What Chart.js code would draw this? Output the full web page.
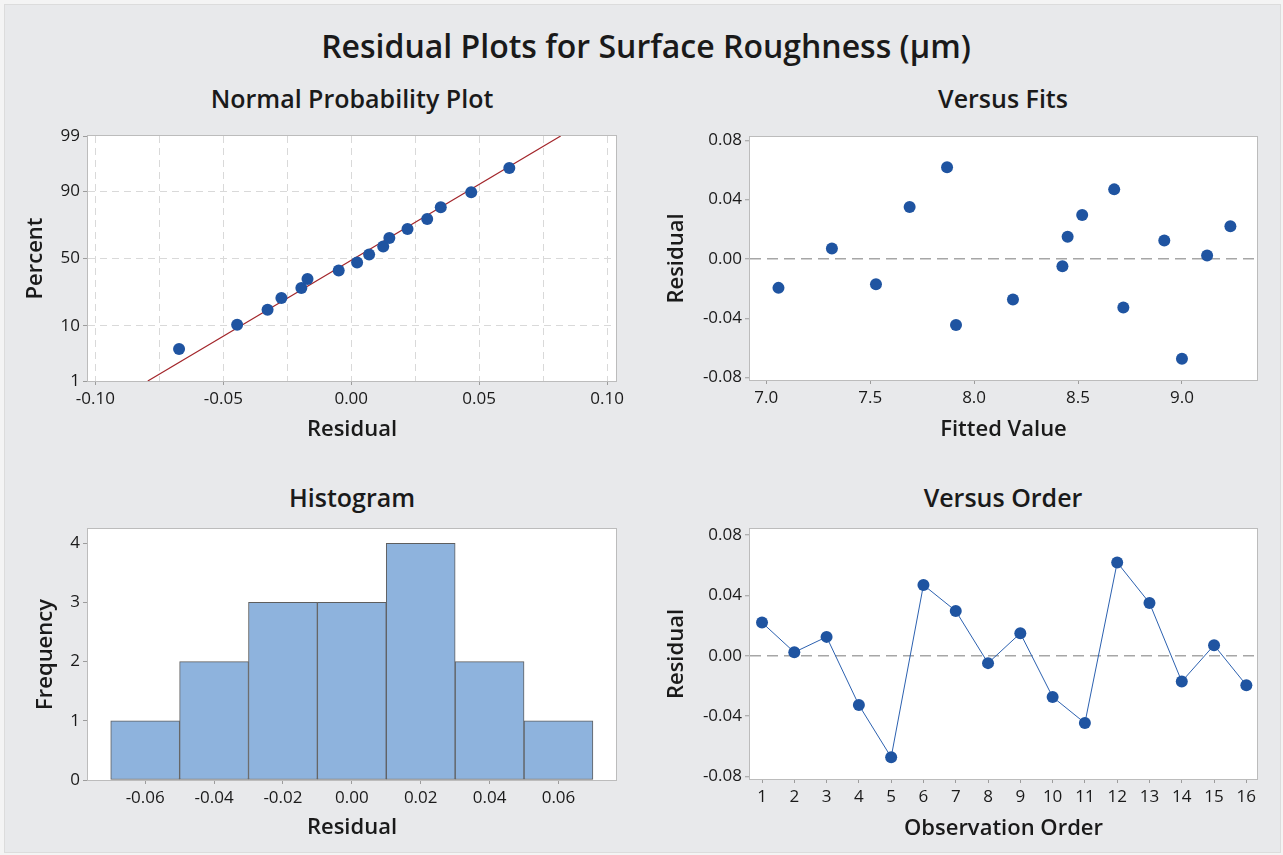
<!DOCTYPE html>
<html>
<head>
<meta charset="utf-8">
<title>Residual Plots for Surface Roughness</title>
<script src="https://cdn.jsdelivr.net/npm/chart.js@4.4.1/dist/chart.umd.min.js"></script>
<style>
  body { margin: 0; width: 1283px; height: 855px; background: #f4f4f4; font-family: "Open Sans", sans-serif; overflow: hidden; }
  .wrap { position: absolute; left: 4px; top: 4px; width: 1275px; height: 847px; background: #e8e9eb; border: 1px solid #dcdcdc; }
  canvas { position: absolute; }
  .title { position: absolute; color: #1a1a1a; white-space: nowrap; transform: translate(-50%, -50%); font-weight: 600; }
  .main { left: 646px; top: 45px; font-size: 32px; }
  .sub { font-size: 25px; }
</style>
</head>
<body>
<div class="wrap"></div>
<div class="title main">Residual Plots for Surface Roughness (µm)</div>
<div class="title sub" style="left:352px; top:98px;">Normal Probability Plot</div>
<div class="title sub" style="left:1003px; top:98px;">Versus Fits</div>
<div class="title sub" style="left:352px; top:497px;">Histogram</div>
<div class="title sub" style="left:1003px; top:497px;">Versus Order</div>

<canvas id="npp" width="640" height="330" style="left:0; top:120px;"></canvas>
<canvas id="fits" width="643" height="330" style="left:640px; top:120px;"></canvas>
<canvas id="hist" width="640" height="340" style="left:0; top:515px;"></canvas>
<canvas id="order" width="643" height="340" style="left:640px; top:515px;"></canvas>

<script>
// residuals, fits off the Versus Fits plot
const obsOrder = [1, 2, 3, 4, 5, 6, 7, 8, 9, 10, 11, 12, 13, 14, 15, 16];
const residuals = [0.0220, 0.0023, 0.0125, -0.0327, -0.0673, 0.0469, 0.0297, -0.0049,
                   0.0149, -0.0273, -0.0446, 0.0618, 0.0350, -0.0171, 0.0070, -0.0195];
const fittedValues = [9.233, 9.121, 8.915, 8.718, 9.000, 8.674, 8.520, 8.425,
                      8.450, 8.187, 7.913, 7.870, 7.690, 7.528, 7.316, 7.059];
// plotted percent of the sorted residuals
const probPercent = [4.3, 10.4, 16.5, 22.6, 28.7, 34.8, 40.9, 47.0,
                     53.0, 59.1, 65.2, 71.3, 77.4, 83.5, 89.6, 95.7];

const histBinCenters = [-0.06, -0.04, -0.02, 0.00, 0.02, 0.04, 0.06];
const histCounts = [1, 2, 3, 3, 4, 2, 1];

// ticks
const percentTicks = [1, 10, 50, 90, 99];
const nppResidTicks = [-0.10, -0.075, -0.05, -0.025, 0, 0.025, 0.05, 0.075, 0.10];
const residTicks = [-0.08, -0.04, 0, 0.04, 0.08];
const fitTicks = [7.0, 7.5, 8.0, 8.5, 9.0];
const histTicks = [-0.06, -0.04, -0.02, 0.00, 0.02, 0.04, 0.06];
const freqTicks = [0, 1, 2, 3, 4];

const dotColor = "#1f54a1";
const textColor = "#1a1a1a";
const tickMarkColor = "#9c9c9c";

Chart.defaults.font.family = "'Open Sans', sans-serif";
Chart.defaults.color = textColor;
Chart.defaults.animation = false;
Chart.defaults.plugins.legend.display = false;
Chart.defaults.plugins.tooltip.enabled = false;

// inverse of the standard normal cdf (Acklam), used for the probability axis
function normInv(p) {
  const a = [-39.6968302866538, 220.946098424521, -275.928510446969, 138.357751867269, -30.6647980661472, 2.50662827745924];
  const b = [-54.4760987982241, 161.585836858041, -155.698979859887, 66.8013118877197, -13.2806815528857];
  const c = [-0.00778489400243029, -0.322396458041136, -2.40075827716184, -2.54973253934373, 4.37466414146497, 2.93816398269878];
  const d = [0.00778469570904146, 0.32246712907004, 2.445134137143, 3.75440866190742];
  const pl = 0.02425;
  let q, r;
  if (p < pl) {
    q = Math.sqrt(-2 * Math.log(p));
    return (((((c[0] * q + c[1]) * q + c[2]) * q + c[3]) * q + c[4]) * q + c[5]) / ((((d[0] * q + d[1]) * q + d[2]) * q + d[3]) * q + 1);
  }
  if (p > 1 - pl) {
    q = Math.sqrt(-2 * Math.log(1 - p));
    return -(((((c[0] * q + c[1]) * q + c[2]) * q + c[3]) * q + c[4]) * q + c[5]) / ((((d[0] * q + d[1]) * q + d[2]) * q + d[3]) * q + 1);
  }
  q = p - 0.5;
  r = q * q;
  return (((((a[0] * r + a[1]) * r + a[2]) * r + a[3]) * r + a[4]) * r + a[5]) * q / (((((b[0] * r + b[1]) * r + b[2]) * r + b[3]) * r + b[4]) * r + 1);
}
const z = (pct) => normInv(pct / 100);

// white plot area + grey frame
const plotFrame = {
  id: "plotFrame",
  beforeDraw(chart) {
    const { ctx, chartArea: a } = chart;
    ctx.save();
    ctx.fillStyle = "#ffffff";
    ctx.fillRect(a.left, a.top, a.width, a.height);
    ctx.restore();
  },
  beforeDatasetsDraw(chart) {
    const { ctx, chartArea: a } = chart;
    ctx.save();
    ctx.strokeStyle = "#bcbcbc";
    ctx.lineWidth = 1;
    ctx.strokeRect(Math.round(a.left) - 0.5, Math.round(a.top) - 0.5, Math.round(a.width) + 1, Math.round(a.height) + 1);
    ctx.restore();
  },
};

const tickFont = { size: 17 };
const titleFont = { size: 22, weight: "600" };

function fixedTicks(vals) {
  return (axis) => {
    axis.ticks = vals.map((v) => ({ value: v }));
  };
}

// box = {yw: y axis width, top: pad top, right: pad right, xh: x axis height}
function xAxis(min, max, vals, fmt, title, titlePad, box, grid) {
  return {
    type: "linear",
    position: "bottom",
    min: min,
    max: max,
    offset: false,
    afterBuildTicks: fixedTicks(vals),
    afterFit: (s) => { s.height = box.xh; },
    border: { display: false, dash: grid.dash || [] },
    grid: Object.assign({ offset: false, drawOnChartArea: false, tickLength: 4, tickColor: tickMarkColor, tickWidth: 1 }, grid),
    ticks: { font: tickFont, padding: 4, maxRotation: 0, autoSkip: false, callback: fmt },
    title: { display: true, text: title, font: titleFont, padding: { top: 0, bottom: titlePad } },
  };
}

function yAxis(min, max, vals, fmt, title, titlePad, box, grid) {
  return {
    type: "linear",
    position: "left",
    min: min,
    max: max,
    afterBuildTicks: fixedTicks(vals),
    afterFit: (s) => { s.width = box.yw; },
    border: { display: false, dash: grid.dash || [] },
    grid: Object.assign({ drawOnChartArea: false, tickLength: 5, tickColor: tickMarkColor, tickWidth: 1 }, grid),
    ticks: { font: tickFont, padding: 3, autoSkip: false, callback: fmt },
    title: { display: true, text: title, font: titleFont, padding: { top: titlePad, bottom: 0 } },
  };
}

function layoutFor(box) {
  return { padding: { top: box.top, right: box.right, left: 0, bottom: 0 } };
}

// ---------- Normal probability plot ----------
const sortedResid = residuals.slice().sort((a, b) => a - b);
const nResid = residuals.length;
const meanResid = residuals.reduce((s, v) => s + v, 0) / nResid;
const sdResid = Math.sqrt(residuals.reduce((s, v) => s + (v - meanResid) ** 2, 0) / (nResid - 1));
const fitLine = [percentTicks[0], percentTicks[percentTicks.length - 1]].map((p) => ({
  x: meanResid + sdResid * z(p),
  y: z(p),
}));

const nppBox = { yw: 88, top: 16, right: 24, xh: 69 };
const isHalfStep = (v) => Math.abs(v * 20 - Math.round(v * 20)) < 1e-9;

new Chart(document.getElementById("npp"), {
  type: "scatter",
  data: {
    datasets: [
      {
        data: sortedResid.map((r, i) => ({ x: r, y: z(probPercent[i]) })),
        pointRadius: 6,
        pointBackgroundColor: dotColor,
        pointBorderWidth: 0,
      },
      {
        data: fitLine,
        showLine: true,
        borderColor: "#a3262b",
        borderWidth: 1.2,
        pointRadius: 0,
        order: 1,
      },
    ],
  },
  options: {
    responsive: false,
    devicePixelRatio: 1,
    layout: layoutFor(nppBox),
    scales: {
      x: xAxis(-0.1029, 0.1035, nppResidTicks,
        (v) => (isHalfStep(v) ? v.toFixed(2) : ""),
        "Residual", 7, nppBox,
        {
          drawOnChartArea: true,
          color: "#d9d9d9",
          dash: [7, 5],
          tickColor: (c) => (c.tick && isHalfStep(c.tick.value) ? tickMarkColor : "rgba(0,0,0,0)"),
        }),
      y: yAxis(z(1), z(99), percentTicks.map(z),
        (v, i) => percentTicks[i],
        "Percent", 23, nppBox,
        {
          drawOnChartArea: true,
          color: (c) => (c.index === 0 || c.index === percentTicks.length - 1 ? "rgba(0,0,0,0)" : "#d9d9d9"),
          dash: [7, 5],
        }),
    },
  },
  plugins: [plotFrame],
});

// ---------- Versus fits ----------
const zeroLine = {
  drawOnChartArea: true,
  color: (c) => (c.tick && c.tick.value === 0 ? "#a6a6a6" : "rgba(0,0,0,0)"),
  lineWidth: 1.5,
  dash: [11, 6],
};
const fitsBox = { yw: 110, top: 17, right: 26, xh: 70 };

new Chart(document.getElementById("fits"), {
  type: "scatter",
  data: {
    datasets: [
      {
        data: fittedValues.map((f, i) => ({ x: f, y: residuals[i] })),
        pointRadius: 6,
        pointBackgroundColor: dotColor,
        pointBorderWidth: 0,
      },
    ],
  },
  options: {
    responsive: false,
    devicePixelRatio: 1,
    layout: layoutFor(fitsBox),
    scales: {
      x: xAxis(6.922, 9.361, fitTicks, (v) => v.toFixed(1), "Fitted Value", 7, fitsBox, {}),
      y: yAxis(-0.0816, 0.0822, residTicks, (v) => v.toFixed(2), "Residual", 24, fitsBox, zeroLine),
    },
  },
  plugins: [plotFrame],
});

// ---------- Histogram ----------
const histBox = { yw: 88, top: 14, right: 24, xh: 75 };

new Chart(document.getElementById("hist"), {
  type: "bar",
  data: {
    datasets: [
      {
        data: histBinCenters.map((c, i) => ({ x: c, y: histCounts[i] })),
        backgroundColor: "#8eb3dd",
        borderColor: "#5e5e5e",
        borderWidth: 1,
        borderSkipped: false,
        barPercentage: 1,
        categoryPercentage: 1,
      },
    ],
  },
  options: {
    responsive: false,
    devicePixelRatio: 1,
    layout: layoutFor(histBox),
    scales: {
      x: xAxis(-0.0766, 0.0767, histTicks, (v) => v.toFixed(2), "Residual", 14, histBox, {}),
      y: yAxis(0, 4.24, freqTicks, (v) => v, "Frequency", 33, histBox, {}),
    },
  },
  plugins: [plotFrame],
});

// ---------- Versus order ----------
const orderBox = { yw: 110, top: 14, right: 26, xh: 76 };

new Chart(document.getElementById("order"), {
  type: "scatter",
  data: {
    datasets: [
      {
        data: obsOrder.map((o, i) => ({ x: o, y: residuals[i] })),
        showLine: true,
        borderColor: "#2c61b0",
        borderWidth: 1,
        pointRadius: 6,
        pointBackgroundColor: dotColor,
        pointBorderWidth: 0,
      },
    ],
  },
  options: {
    responsive: false,
    devicePixelRatio: 1,
    layout: layoutFor(orderBox),
    scales: {
      x: xAxis(0.628, 16.33, obsOrder, (v) => v, "Observation Order", 13, orderBox, {}),
      y: yAxis(-0.0817, 0.084, residTicks, (v) => v.toFixed(2), "Residual", 24, orderBox, zeroLine),
    },
  },
  plugins: [plotFrame],
});
</script>
</body>
</html>
